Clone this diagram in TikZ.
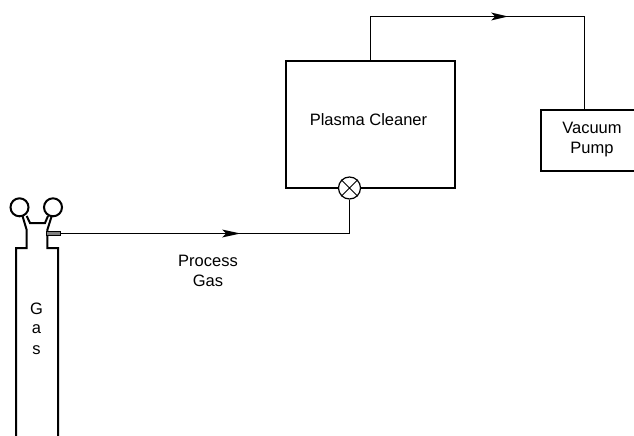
\documentclass[tikz,border=0pt]{standalone}
\usepackage{fontspec}
\setmainfont{Liberation Sans}
\tikzset{
  thick line/.style={draw=black,line width=2pt},
  thin line/.style={draw=black,line width=1pt},
  lbl/.style={inner sep=0pt,align=center,font=\fontsize{16.5}{20}\selectfont},
  flowhead/.style={fill=black,draw=none}
}
\begin{document}
\begin{tikzpicture}[x=1pt,y=-1pt]
\useasboundingbox (0,0) rectangle (634,436);
% cylinder
\node[circle,thick line,minimum size=18pt,inner sep=0pt] (g1) at (19.5,207.3) {};
\node[circle,thick line,minimum size=18pt,inner sep=0pt] (g2) at (53,207.3) {};
\draw[thick line] (22.5,216) -- (26.7,230) -- (26.7,248) -- (16,248) -- (16,436);
\draw[thick line] (51.7,216) -- (47.3,230) -- (47.3,248) -- (58,248) -- (58,436);
\draw[thick line] (26.7,216) -- (30,223) -- (45,223) -- (48,216);
\node[draw=black,fill=gray,line width=1pt,minimum width=13.5pt,minimum height=3.5pt,inner sep=0pt] (outlet) at (53.7,233.5) {};
\node[lbl] (gas1) at (36.5,308.5) {G};
\node[lbl] (gas2) at (36.5,329) {a};
\node[lbl] (gas3) at (36.5,350) {s};
% boxes
\node[thick line,minimum width=169pt,minimum height=127pt,inner sep=0pt] (cleaner) at (370.5,124.5) {};
\node[lbl] (cleanertext) at (368.5,120) {Plasma Cleaner};
\node[thick line,minimum width=100pt,minimum height=61pt,inner sep=0pt] (pump) at (591,140.5) {};
\node[lbl] (pumptext) at (592,140) {Vacuum\\Pump};
% valve
\node[circle,draw=black,line width=1.2pt,fill=white,minimum size=22pt,inner sep=0pt] (valve) at (349.5,188) {};
\draw[thin line] (valve.45) -- (valve.225) (valve.135) -- (valve.315);
% connectors
\coordinate (c1) at (349.5,233.5);
\coordinate (c2) at (370.5,16.5);
\coordinate (c3) at (584.5,16.5);
\draw[thin line] (outlet.east) -- (c1) -- (valve.south);
\draw[thin line] (cleaner.north -| c2) -- (c2) -- (c3) -- (pump.north -| c3);
\fill[flowhead] (240.5,233.5) -- (222,229.5) -- (226,233.5) -- (222,237.5) -- cycle;
\fill[flowhead] (508,16.5) -- (491,12.5) -- (495,16.5) -- (491,20.5) -- cycle;
\node[lbl] (procgas) at (208,271) {Process\\Gas};
\end{tikzpicture}
\end{document}
